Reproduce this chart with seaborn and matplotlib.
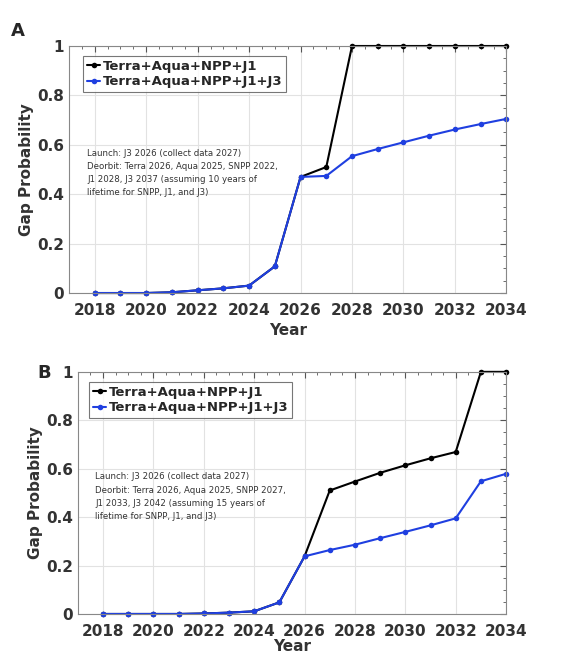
import matplotlib
matplotlib.use("Agg")
import matplotlib.pyplot as plt
import seaborn as sns
import pandas as pd
from matplotlib.ticker import MultipleLocator

years = list(range(2018, 2035))

# Panel A: 10-year lifetime
a_base = [0, 0, 0, 0.003, 0.011, 0.019, 0.03, 0.108, 0.47, 0.51, 1, 1, 1, 1, 1, 1, 1]
a_j3 = [0, 0, 0, 0.003, 0.011, 0.019, 0.03, 0.108, 0.47, 0.474, 0.554, 0.583, 0.61, 0.637, 0.662, 0.684, 0.705]

# Panel B: 15-year lifetime
b_base = [0, 0, 0, 0, 0.002, 0.0055, 0.011, 0.048, 0.238, 0.51, 0.547, 0.583, 0.614, 0.643, 0.669, 1, 1]
b_j3 = [0, 0, 0, 0, 0.002, 0.0055, 0.011, 0.048, 0.238, 0.264, 0.286, 0.313, 0.339, 0.366, 0.395, 0.548, 0.579]

series_names = ["Terra+Aqua+NPP+J1", "Terra+Aqua+NPP+J1+J3"]
colors = ["#000000", "#1f3fe0"]

note_a = ("Launch: J3 2026 (collect data 2027)\n"
          "Deorbit: Terra 2026, Aqua 2025, SNPP 2022,\n"
          "J1 2028, J3 2037 (assuming 10 years of\n"
          "lifetime for SNPP, J1, and J3)")
note_b = ("Launch: J3 2026 (collect data 2027)\n"
          "Deorbit: Terra 2026, Aqua 2025, SNPP 2027,\n"
          "J1 2033, J3 2042 (assuming 15 years of\n"
          "lifetime for SNPP, J1, and J3)")

sns.set_style("whitegrid")
plt.rcParams["font.family"] = ["DejaVu Sans"]

fig = plt.figure(figsize=(5.68, 6.57), dpi=100)
ax_a = fig.add_axes([0.1215, 0.554, 0.77, 0.376])
ax_b = fig.add_axes([0.137, 0.0655, 0.754, 0.3685])


def draw_panel(ax, base, j3, note, legend_box, xpad):
    df = pd.DataFrame({
        "Year": years * 2,
        "p": base + j3,
        "s": [series_names[0]] * len(years) + [series_names[1]] * len(years),
    })
    sns.lineplot(data=df, x="Year", y="p", hue="s", palette=colors,
                 marker="o", markersize=4, markeredgewidth=0, linewidth=1.5,
                 clip_on=False, ax=ax)
    ax.set_xlim(2017, 2034)
    ax.set_ylim(0, 1)
    ax.xaxis.set_major_locator(MultipleLocator(2))
    ax.xaxis.set_minor_locator(MultipleLocator(0.5))
    ax.yaxis.set_minor_locator(MultipleLocator(0.05))
    ax.set_yticks([0, 0.2, 0.4, 0.6, 0.8, 1])
    ax.set_yticklabels(["0", "0.2", "0.4", "0.6", "0.8", "1"])
    ax.grid(True, which="major", color="#e2e2e2", linewidth=0.8)
    ax.tick_params(which="both", direction="in", top=True, right=True,
                   colors="#555555", labelcolor="#333333")
    ax.tick_params(which="major", length=4, labelsize=11)
    ax.tick_params(axis="x", which="major", pad=7)
    ax.tick_params(which="minor", length=2)
    for lab in ax.get_xticklabels() + ax.get_yticklabels():
        lab.set_fontweight("bold")
    for sp in ax.spines.values():
        sp.set_color("#888888")
        sp.set_linewidth(0.8)
    ax.set_xlabel("Year", fontsize=11, fontweight="bold", color="#333333", labelpad=xpad)
    ax.set_ylabel("Gap Probability", fontsize=11, fontweight="bold", color="#333333", labelpad=2)
    leg = ax.legend(loc="upper left", bbox_to_anchor=legend_box, fontsize=9.5,
                    frameon=True, fancybox=False, handlelength=1.0,
                    handletextpad=0.2, borderpad=0.3, labelspacing=0.2,
                    borderaxespad=0)
    leg.get_frame().set_edgecolor("#555555")
    leg.get_frame().set_linewidth(0.8)
    for t in leg.get_texts():
        t.set_fontweight("bold")
    ax.text(0.041, 0.585, note, transform=ax.transAxes, fontsize=6.2,
            va="top", ha="left", color="#333333", linespacing=1.6)


draw_panel(ax_a, a_base, a_j3, note_a, (0.032, 0.96), 4)
draw_panel(ax_b, b_base, b_j3, note_b, (0.026, 0.96), 0)

fig.text(0.02, 0.945, "A", fontsize=13, fontweight="bold")
fig.text(0.065, 0.425, "B", fontsize=13, fontweight="bold")

fig.savefig("out.png", dpi=100)
